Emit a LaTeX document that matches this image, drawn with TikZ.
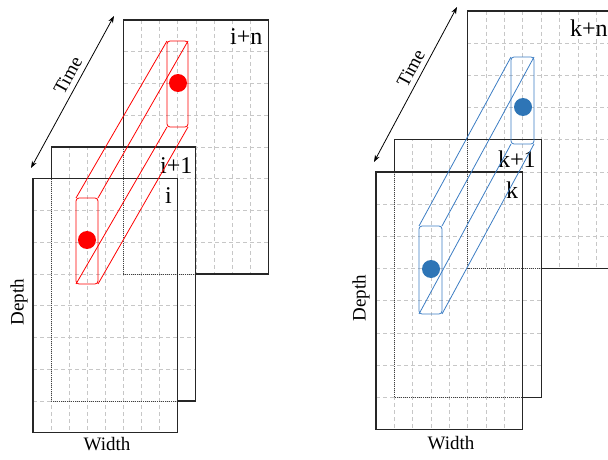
\documentclass[tikz,border=0pt]{standalone}
\usepackage{fontspec}
\setmainfont{Liberation Serif}
\usetikzlibrary{arrows.meta}
\definecolor{tblue}{RGB}{46,117,182}
\definecolor{tbline}{RGB}{60,125,195}
\newcommand\framestack{%
  \begin{scope}
    \clip (5,0) rectangle (13,8) (1,4) rectangle (9,12) (0,5) rectangle (8,13);
    \foreach \c in {0,...,13} \draw[gridline] (\c,0) -- (\c,13);
    \foreach \r in {0,...,13} \draw[gridline] (0,\r) -- (13,\r);
  \end{scope}
  \draw[frameline] (5,4) -- (5,0) -- (13,0) -- (13,8) -- (9,8);
  \draw[hiddenline] (5,4) -- (5,8) -- (9,8);
  \draw[frameline] (1,5) -- (1,4) -- (9,4) -- (9,12) -- (8,12);
  \draw[hiddenline] (1,5) -- (1,12) -- (8,12);
  \draw[frameline] (0,5) rectangle (8,13);
}
\begin{document}
\begin{tikzpicture}[x=1pt,y=-1pt,
  gridline/.style={draw=black!22, line width=0.7pt, dash pattern=on 4pt off 3pt},
  frameline/.style={draw=black!85, line width=1.1pt},
  hiddenline/.style={draw=black!75, line width=0.9pt, dash pattern=on 1pt off 1pt},
  tubered/.style={draw=red, line width=0.8pt},
  tubeblue/.style={draw=tbline, line width=0.8pt},
  facered/.style={tubered, rounded corners=3pt},
  faceblue/.style={tubeblue, rounded corners=3pt},
  reddot/.style={circle, fill=red, inner sep=0pt, minimum size=18pt},
  bluedot/.style={circle, fill=tblue, inner sep=0pt, minimum size=18pt},
  framelabel/.style={font=\fontsize{24}{24}\selectfont, inner sep=0pt, anchor=base west},
  axislabel/.style={font=\fontsize{19}{19}\selectfont, inner sep=0pt},
  timearrow/.style={{Stealth[length=7pt,width=5pt]}-{Stealth[length=7pt,width=5pt]}, line width=0.8pt}
]
\useasboundingbox (0,0) rectangle (608,460);
\clip (0,0) rectangle (608,460);

% ---------- left group ----------
\begin{scope}[shift={(33,20)}, x=18.1pt, y=-31.75pt]
  \framestack
\end{scope}
\node[framelabel] (lin) at (230,45) {i+n};
\node[framelabel] (li1) at (160,173) {i+1};
\node[framelabel] (li) at (165,203) {i};

\coordinate (lf1) at (76,198);  \coordinate (lf2) at (98,198);
\coordinate (lf3) at (98,284);  \coordinate (lf4) at (76,284);
\coordinate (lb1) at (167,41);  \coordinate (lb2) at (188,41);
\coordinate (lb3) at (188,127); \coordinate (lb4) at (167,127);
\draw[facered] (lb1) rectangle (lb3);
\draw[facered] (lf1) rectangle (lf3);
\draw[tubered] (lf1) -- (lb1) (lf2) -- (lb2) (lf3) -- (lb3) (lf4) -- (lb4);
\node[reddot] (ldf) at (87,240) {};
\node[reddot] (ldb) at (178,83) {};

\coordinate (lta) at (31,168);
\coordinate (ltb) at (114,16);
\draw[timearrow] (lta) -- node[axislabel, sloped, above=5pt, pos=0.57] (ltime) {Time} (ltb);
\node[axislabel, rotate=90] (ldepth) at (19,302) {Depth};
\node[axislabel] (lwidth) at (107,444) {Width};

% ---------- right group ----------
\begin{scope}[shift={(376,11)}, x=18.35pt, y=-32.2pt]
  \framestack
\end{scope}
\node[framelabel] (rkn) at (570,37) {k+n};
\node[framelabel] (rk1) at (498,167) {k+1};
\node[framelabel] (rk) at (506,198) {k};

\coordinate (rf1) at (419,226); \coordinate (rf2) at (442,226);
\coordinate (rf3) at (442,314); \coordinate (rf4) at (419,314);
\coordinate (rb1) at (511,57);  \coordinate (rb2) at (534,57);
\coordinate (rb3) at (534,144); \coordinate (rb4) at (511,144);
\draw[faceblue] (rb1) rectangle (rb3);
\draw[faceblue] (rf1) rectangle (rf3);
\draw[tubeblue] (rf1) -- (rb1) (rf2) -- (rb2) (rf3) -- (rb3) (rf4) -- (rb4);
\node[bluedot] (rdf) at (431,269) {};
\node[bluedot] (rdb) at (523,107) {};

\coordinate (rta) at (374,162);
\coordinate (rtb) at (457,7);
\draw[timearrow] (rta) -- node[axislabel, sloped, above=5pt, pos=0.57] (rtime) {Time} (rtb);
\node[axislabel, rotate=90] (rdepth) at (361,298) {Depth};
\node[axislabel] (rwidth) at (451,443) {Width};
\end{tikzpicture}
\end{document}
